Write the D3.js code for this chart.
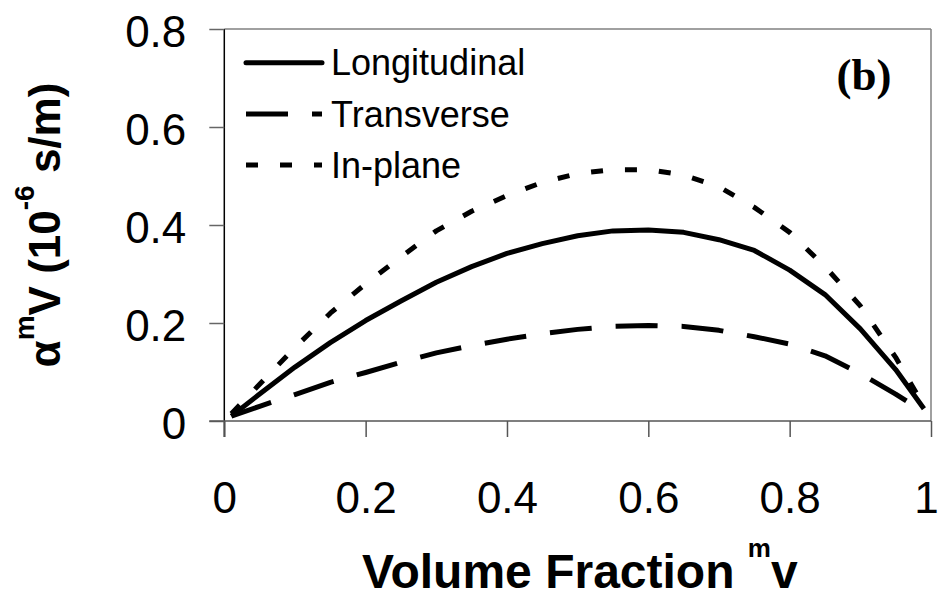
<!DOCTYPE html>
<html>
<head>
<meta charset="utf-8">
<script src="https://cdn.jsdelivr.net/npm/d3@7"></script>
<style>
  html, body { margin: 0; padding: 0; background: #fff; }
  svg { display: block; }
</style>
</head>
<body>
<svg id="chart" width="941" height="597"></svg>
<script>
// ---- data ----
const fractions    = [0.01, 0.05, 0.10, 0.15, 0.20, 0.25, 0.30, 0.35, 0.40, 0.45, 0.50, 0.55, 0.60, 0.65, 0.70, 0.75, 0.80, 0.85, 0.90, 0.95, 0.99];
const longitudinal = [0.010, 0.055, 0.110, 0.160, 0.205, 0.245, 0.283, 0.315, 0.342, 0.362, 0.378, 0.388, 0.390, 0.385, 0.370, 0.348, 0.308, 0.258, 0.188, 0.105, 0.025];
const transverse   = [0.010, 0.030, 0.054, 0.079, 0.099, 0.120, 0.139, 0.154, 0.167, 0.178, 0.187, 0.193, 0.195, 0.193, 0.185, 0.172, 0.157, 0.133, 0.097, 0.055, 0.018];
const inPlane      = [0.015, 0.075, 0.150, 0.220, 0.280, 0.335, 0.388, 0.428, 0.460, 0.487, 0.505, 0.513, 0.513, 0.502, 0.478, 0.436, 0.385, 0.315, 0.235, 0.130, 0.030];
const seriesNames  = ["Longitudinal", "Transverse", "In-plane"];
const xTicks       = [0, 0.2, 0.4, 0.6, 0.8, 1];
const xTickLabels  = ["0", "0.2", "0.4", "0.6", "0.8", "1"];
const yTicks       = [0, 0.2, 0.4, 0.6, 0.8];
const yTickLabels  = ["0", "0.2", "0.4", "0.6", "0.8"];

const svg = d3.select("#chart");
const x = d3.scaleLinear().domain([0, 1]).range([224.3, 931]);
const y = d3.scaleLinear().domain([0, 0.8]).range([421, 29]);

const seriesData = [longitudinal, transverse, inPlane];
const dashes = [null, "42,24", "12,22"];

// plot frame (top & right)
svg.append("line").attr("x1", x(0)).attr("x2", x(1)).attr("y1", y(0.8)).attr("y2", y(0.8))
  .attr("stroke", "#808080").attr("stroke-width", 1.5);
svg.append("line").attr("x1", x(1)).attr("x2", x(1)).attr("y1", y(0.8)).attr("y2", y(0))
  .attr("stroke", "#808080").attr("stroke-width", 1.5);

// axes
const font = "'Liberation Sans', Arial, sans-serif";
const yAxis = svg.append("g").attr("transform", `translate(${x(0)},0)`)
  .call(d3.axisLeft(y).tickValues(yTicks).tickFormat((d, i) => yTickLabels[i]).tickSize(15).tickPadding(23));
yAxis.select(".domain").attr("stroke", "#000").attr("stroke-width", 1.5).attr("d", `M0,${y(0.8)}V${y(0) + 16}`);
yAxis.selectAll(".tick line").attr("stroke", "#666").attr("stroke-width", 1.5);
yAxis.selectAll(".tick text").attr("font-family", font).attr("font-size", 44).attr("fill", "#000").attr("dy", "0.4em");

const xAxis = svg.append("g").attr("transform", `translate(0,${y(0)})`)
  .call(d3.axisBottom(x).tickValues(xTicks).tickFormat((d, i) => xTickLabels[i]).tickSize(16).tickPadding(45));
xAxis.select(".domain").attr("stroke", "#555").attr("stroke-width", 1.5).attr("d", `M${x(0) - 15},0H${x(1)}`);
xAxis.selectAll(".tick line").attr("stroke", "#555").attr("stroke-width", 1.5);
xAxis.selectAll(".tick text").attr("font-family", font).attr("font-size", 44).attr("fill", "#000")
  .attr("dx", (d, i) => i === xTicks.length - 1 ? -5 : 0);

// series
const line = d3.line().x((d, i) => x(fractions[i])).y(d => y(d));
seriesData.forEach((vals, k) => {
  const p = svg.append("path").datum(vals).attr("d", line)
    .attr("fill", "none").attr("stroke", "#000").attr("stroke-width", 5)
    .attr("stroke-linejoin", "round");
  if (dashes[k]) p.attr("stroke-dasharray", dashes[k]);
});

// legend
const legendY = [62.7, 114, 165];
seriesNames.forEach((name, k) => {
  const l = svg.append("line").attr("x1", 246).attr("x2", 322).attr("y1", legendY[k]).attr("y2", legendY[k])
    .attr("stroke", "#000").attr("stroke-width", 5);
  if (dashes[k]) l.attr("stroke-dasharray", dashes[k]);
  else l.attr("stroke-linecap", "round");
  svg.append("text").attr("x", 331).attr("y", legendY[k] + 12.5)
    .attr("font-family", font).attr("font-size", 36).attr("fill", "#000").text(name);
});

// panel label
svg.append("text").attr("x", 864).attr("y", 90).attr("text-anchor", "middle")
  .attr("font-family", "'Liberation Serif', 'Times New Roman', serif").attr("font-weight", "bold")
  .attr("font-size", 45).attr("fill", "#000").text("(b)");

// x title
const xt = svg.append("text").attr("x", 362).attr("y", 588)
  .attr("font-family", font).attr("font-weight", "bold").attr("font-size", 48).attr("fill", "#000");
xt.append("tspan").text("Volume Fraction ");
xt.append("tspan").attr("font-size", 26).attr("dy", -31).text("m");
xt.append("tspan").attr("dy", 31).text("v");

// y title
const yt = svg.append("text").attr("transform", "translate(60,225) rotate(-90)").attr("text-anchor", "middle")
  .attr("font-family", font).attr("font-weight", "bold").attr("font-size", 44).attr("fill", "#000");
yt.append("tspan").text("α");
yt.append("tspan").attr("font-size", 28).attr("dy", -26).text("m");
yt.append("tspan").attr("dy", 26).text("V (10");
yt.append("tspan").attr("font-size", 28).attr("dy", -26).text("-6");
yt.append("tspan").attr("dy", 26).text(" s/m)");
</script>
</body>
</html>
